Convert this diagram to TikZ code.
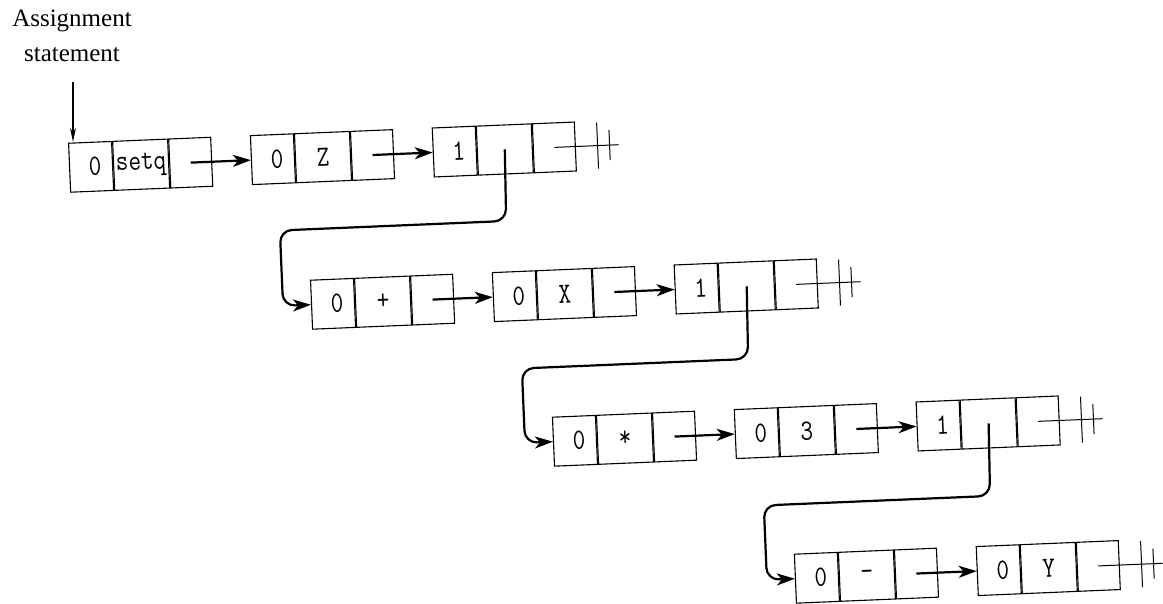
\documentclass[tikz,border=0pt]{standalone}
\usepackage{graphicx}
\usepackage{fontspec}
\setmainfont{Liberation Serif}
\usetikzlibrary{arrows.meta,calc}
\tikzset{
  cell/.style={draw, line width=1.1pt, minimum height=49pt, inner sep=0pt, anchor=west,
               font=\ttfamily\fontsize{24.5}{24.5}\selectfont},
  ca/.style={cell, minimum width=43pt},
  cb/.style={cell, minimum width=55pt},
  cc/.style={cell, minimum width=42pt},
  link/.style={line width=2.2pt, -{Stealth[length=18pt,width=12pt,inset=5pt]}},
  ptr/.style={link, rounded corners=12pt},
  nilline/.style={line width=1pt},
  entry/.style={line width=1.3pt, -{Stealth[length=14pt,width=6pt]}},
  lbl/.style={font=\fontsize{25}{30}\selectfont, anchor=base, inner sep=0pt}
}
\newcommand\tall[1]{\scalebox{1}[1.2]{#1}}
% #1 name, #2 u, #3 v (left-middle), #4 text a, #5 text b
\newcommand\consbox[5]{%
  \node[ca] (#1a) at (#2,#3) {\hspace*{8pt}\tall{#4}};
  \node[cb] (#1b) at (#1a.east) {\tall{#5}};
  \node[cc] (#1c) at (#1b.east) {};
}
% #1 name, #2 u, #3 v
\newcommand\nilmark[3]{%
  \draw[nilline] (#1c.center) -- (#2+186,#3);
  \draw[nilline] (#2+165,#3-23) -- (#2+165,#3+23);
  \draw[nilline] (#2+177,#3-15) -- (#2+177,#3+15);
}
\begin{document}
\begin{tikzpicture}[x=1pt,y=-1pt]
\useasboundingbox (0,0) rectangle (1163,604);
\begin{scope}[rotate=2.4, transform shape]
  % row 0
  \consbox{r0c0}{62}{170.5}{0}{setq}
  \consbox{r0c1}{244}{170.5}{0}{Z}
  \consbox{r0c2}{426}{170.5}{1}{}
  % row 1
  \consbox{r1c0}{298}{317.5}{0}{+}
  \consbox{r1c1}{480}{317.5}{0}{X}
  \consbox{r1c2}{662}{317.5}{1}{}
  % row 2
  \consbox{r2c0}{534}{464.5}{0}{*}
  \consbox{r2c1}{716}{464.5}{0}{3}
  \consbox{r2c2}{898}{464.5}{1}{}
  % row 3
  \consbox{r3c0}{770}{611.5}{0}{-}
  \consbox{r3c1}{952}{611.5}{0}{Y}
  % links
  \draw[link] (r0c0c.center) -- (r0c1a.west);
  \draw[link] (r0c1c.center) -- (r0c2a.west);
  \draw[link] (r1c0c.center) -- (r1c1a.west);
  \draw[link] (r1c1c.center) -- (r1c2a.west);
  \draw[link] (r2c0c.center) -- (r2c1a.west);
  \draw[link] (r2c1c.center) -- (r2c2a.west);
  \draw[link] (r3c0c.center) -- (r3c1a.west);
  % sublist pointers
  \draw[ptr] (r0c2b.center) -- (496.5,242) -- (270,242) -- (270,317.5) -- (r1c0a.west);
  \draw[ptr] (r1c2b.center) -- (732.5,390) -- (506,390) -- (506,464.5) -- (r2c0a.west);
  \draw[ptr] (r2c2b.center) -- (968.5,537) -- (742,537) -- (742,611.5) -- (r3c0a.west);
  % nil terminators
  \nilmark{r0c2}{426}{170.5}
  \nilmark{r1c2}{662}{317.5}
  \nilmark{r2c2}{898}{464.5}
  \nilmark{r3c1}{952}{611.5}
\end{scope}
\node[lbl] (t1) at (72,27) {Assignment};
\node[lbl] (t2) at (72,62) {statement};
\coordinate (ent) at (73,82);
\draw[entry] (ent) -- (ent |- r0c0a.north);
\end{tikzpicture}
\end{document}
